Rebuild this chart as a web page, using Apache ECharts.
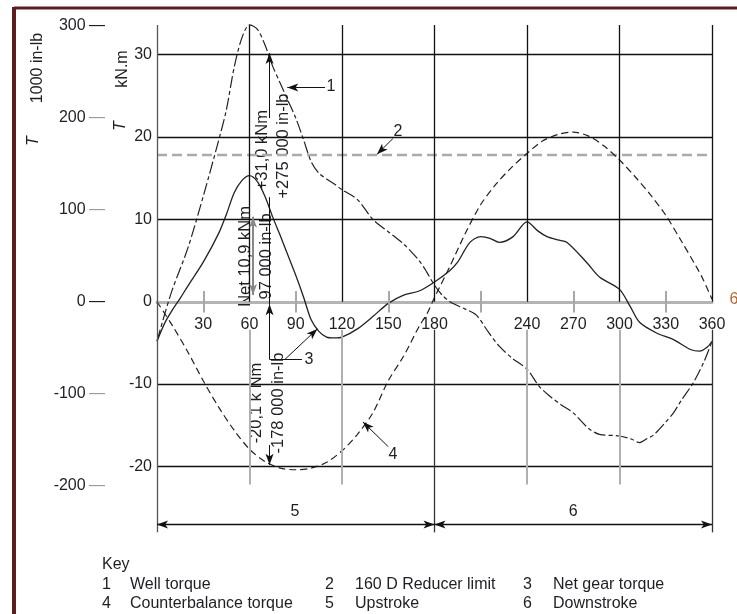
<!DOCTYPE html>
<html><head><meta charset="utf-8">
<script src="https://cdn.jsdelivr.net/npm/echarts@6/dist/echarts.min.js"></script>
<style>html,body{margin:0;padding:0;background:#fff}#c{width:737px;height:614px}</style>
</head><body><div id="c"></div>
<script>
// ---------- data ----------
const wellAngle = [0,5,10,20,30,40,45,50,55,60,65,70,75,80,85,90,95,100,105,110,115,120,130,140,150,160,170,175,180,185,190,200,207,215,222,230,240,248,255,262,270,280,287,300,308,313,318,322,330,335,340,348,355,360];
const wellTorque = [-4.8,-1.5,1.5,6.5,12.8,19.6,23.3,28.4,32,33.6,33.1,31.2,28.6,26.5,24.4,22.3,19.7,17.0,15.6,14.9,14.3,13.6,12.4,10.0,8.5,7.0,5.0,3.6,2.0,0.8,0,-0.9,-1.6,-3.7,-5.4,-6.8,-8.2,-10.3,-11.5,-12.5,-13.5,-15.4,-16.1,-16.3,-16.7,-17.1,-16.6,-16.2,-14.6,-13.5,-12,-9.8,-7.2,-4.8];

const netAngle = [0,5,10,15,20,30,40,45,50,55,60,65,70,75,80,85,90,95,100,105,110,115,120,130,140,150,160,170,180,190,195,203,210,216,222,231,240,247,253,260,266,279,287,300,307,313,324,335,346,352,357,360];
const netTorque = [-4.8,-2.6,-1.0,0.4,1.9,4.8,8.3,10.6,13.2,14.7,15.3,14.6,12.8,10.3,8.0,5.6,3.2,0.6,-2.2,-3.6,-4.3,-4.4,-4.3,-3.3,-1.8,-0.2,0.8,1.3,2.4,3.8,4.8,7.2,7.9,7.7,7.2,7.9,9.7,8.6,7.9,7.5,7.2,4.7,3.0,1.5,-0.6,-2.5,-3.8,-4.6,-5.8,-6.0,-5.5,-4.8];

const cbAngle = [0,10,20,30,40,50,60,70,80,90,100,110,120,130,140,150,160,170,175,180,190,200,210,220,230,240,250,260,270,280,290,300,310,320,330,340,350,354,360];
const cbTorque = [0,-2.9,-6.1,-9.6,-12.8,-15.6,-17.9,-19.4,-20.2,-20.4,-20.2,-19.5,-18.1,-16.1,-13.5,-9.6,-6.6,-3.0,-1.5,0.5,4.3,8.3,11.8,14.3,16.3,18,19.5,20.3,20.6,20.1,18.9,17.2,15.2,13.0,10.5,7.4,4.2,2.8,0.3];

const reducerLimit = 17.8;

const xTickLabels = [30,60,90,120,150,180,240,270,300,330,360];
const minorTicks = [30,90,150,210,270,330];
const kNmTickLabels = [30,20,10,0,-10,-20];
const inlbTickLabels = [300,200,100,0,-100,-200];
const hGridValues = [30,20,10,-10,-20];
const vGridSplit = [60,120,240,300];
const vGridFull = [180,360];
const strokeBounds = [0,180,360];

const keyNumbers = [["1","4"],["2","5"],["3","6"]];
const keyLabels = [["Well torque","Counterbalance torque"],["160 D Reducer limit","Upstroke"],["Net gear torque","Downstroke"]];

// annotation text (rotated) : [text, angle, kNm]
const notes = [
  ["+31,0 kNm", 68.1, 18.4],
  ["+275 000 in-lb", 81.7, 18.9],
  ["Net 10,9 kNm", 57.1, 5.5],
  ["97 000 in-lb", 70.7, 5.5],
  ["-20,1 k Nm", 64.2, -12.3],
  ["-178 000 in-lb", 78.5, -12.3]
];
const callouts = [["1",112.9,26.1],["2",156.3,20.7],["3",98.5,-7.0],["4",153,-18.6],["5",89.5,-25.5],["6",270,-25.5]];

// ---------- layout constants ----------
const Y_MIN = -28.2, Y_MAX = 34.2, F = 0.1119; // kNm per 1000 in-lb
const TOP = 33.6, GBOT = -22.2, DBOT = -28.0, DIM = -27.05, LGAP = -3.4;
const GRID_TOP = 20, GRID_H = 514;
const FONT = "'Liberation Sans', Arial, sans-serif";
const INK = '#1e1e24';
const zeroOffset = -Math.round(GRID_H * (0 - Y_MIN) / (Y_MAX - Y_MIN));

const pairs = (xs, ys) => xs.map((x, i) => [x, ys[i]]);
const solid = (c, w) => ({color: c, width: w, type: 'solid'});
function seg(x1, y1, x2, y2, ls, s1, s2) {
  return [{coord: [x1, y1], symbol: s1 || 'none', lineStyle: ls}, {coord: [x2, y2], symbol: s2 || 'none'}];
}
const ml = [];
const BL = solid('#111', 1.3), GR = solid('#b0b0b0', 2), AR = solid('#111', 1);
hGridValues.forEach(v => ml.push(seg(0, v, 360, v, BL)));
vGridSplit.forEach(v => { ml.push(seg(v, TOP, v, 0, BL)); ml.push(seg(v, LGAP, v, GBOT, GR)); });
ml.push(seg(0, TOP, 0, DBOT, solid('#555', 1.3)));
vGridFull.forEach(v => { ml.push(seg(v, TOP, v, 0, BL)); ml.push(seg(v, LGAP, v, DBOT, solid('#333', 1.3))); });
minorTicks.forEach(v => ml.push(seg(v, 1.3, v, -1.3, solid('#a8a8a8', 2))));
// dimension lines (upstroke / downstroke)
for (let i = 0; i < strokeBounds.length - 1; i++) ml.push(seg(strokeBounds[i], DIM, strokeBounds[i+1], DIM, solid('#111', 1.3), 'arrow', 'arrow'));
// annotation arrows / leaders
ml.push(seg(73, 22.3, 73, 30.2, AR, 'none', 'arrow'));
ml.push(seg(109, 26.0, 84.5, 26.0, AR, 'none', 'arrow'));
ml.push(seg(153, 19.8, 142.7, 17.9, AR, 'none', 'arrow'));
ml.push(seg(62.3, 0.8, 62.3, 10.3, solid('#888', 2), 'arrow', 'arrow'));
ml.push(seg(73, 12.7, 73, -0.3, AR));
ml.push(seg(73, -7.0, 73, -0.3, AR, 'none', 'arrow'));
ml.push(seg(73, -7.0, 94, -7.0, AR));
ml.push(seg(83, -7.0, 104, -3.3, AR, 'none', 'arrow'));
ml.push(seg(73, -17.4, 73, -19.8, AR, 'none', 'arrow'));
ml.push(seg(150, -17.6, 133.6, -14.6, AR, 'none', 'arrow'));

const chart = echarts.init(document.getElementById('c'), null, {renderer: 'canvas'});
chart.setOption({
  animation: false,
  backgroundColor: '#fff',
  textStyle: {fontFamily: FONT},
  grid: {left: 157, right: 25, top: GRID_TOP, height: GRID_H},
  xAxis: {
    type: 'value', min: 0, max: 360, position: 'bottom', offset: zeroOffset,
    axisLine: {show: true, onZero: false, lineStyle: {color: '#b4b4b4', width: 3}},
    axisTick: {show: false}, splitLine: {show: false},
    axisLabel: {customValues: xTickLabels, margin: 15, fontSize: 16, color: INK, fontFamily: FONT}
  },
  yAxis: [{
    type: 'value', min: Y_MIN, max: Y_MAX, position: 'left',
    axisLine: {show: false}, axisTick: {show: false}, splitLine: {show: false},
    axisLabel: {customValues: kNmTickLabels, margin: 5, fontSize: 16, color: INK, fontFamily: FONT}
  }, {
    type: 'value', min: Y_MIN / F, max: Y_MAX / F, position: 'left', offset: 52,
    axisLine: {show: false}, axisTick: {show: false}, splitLine: {show: false},
    axisLabel: {
      customValues: inlbTickLabels, margin: 0, fontFamily: FONT,
      formatter: v => `{n|${v}} {${(v === 300 || v === 0) ? 'k' : 'g'}|—}`,
      rich: {n: {fontSize: 16, color: INK, fontFamily: FONT}, k: {fontSize: 16, color: '#111'}, g: {fontSize: 16, color: '#9a9a9a'}}
    }
  }],
  series: [
    {type: 'line', name: 'helpers', data: [], clip: false, silent: true,
     markLine: {silent: true, animation: false, symbol: ['none', 'none'], symbolSize: [6, 11], label: {show: false}, data: ml}},
    {type: 'line', name: 'Reducer limit', data: [[0, reducerLimit], [360, reducerLimit]], showSymbol: false,
     lineStyle: {color: '#aaaaaa', width: 2.5, type: [10, 5]}, z: 3},
    {type: 'line', name: 'Counterbalance torque', data: pairs(cbAngle, cbTorque), showSymbol: false, smooth: 0.3,
     lineStyle: {color: '#222', width: 1.2, type: [7, 4]}, z: 4},
    {type: 'line', name: 'Well torque', data: pairs(wellAngle, wellTorque), showSymbol: false, smooth: 0.3,
     lineStyle: {color: '#222', width: 1.2, type: [12, 3, 4, 3]}, z: 4},
    {type: 'line', name: 'Net gear torque', data: pairs(netAngle, netTorque), showSymbol: false, smooth: 0.3,
     lineStyle: {color: '#222', width: 1.3}, z: 4}
  ]
});

const px = (x, y) => chart.convertToPixel({xAxisIndex: 0, yAxisIndex: 0}, [x, y]);
const g = [];
// page border
g.push({type: 'line', shape: {x1: 14, y1: 8, x2: 737, y2: 8}, style: {stroke: '#5e1c1c', lineWidth: 3}});
g.push({type: 'line', shape: {x1: 14, y1: 7, x2: 14, y2: 614}, style: {stroke: '#5e1c1c', lineWidth: 4}});
// axis titles
const tt = (t, x, y, rot, extra) => g.push(Object.assign({type: 'text', x: x, y: y, rotation: rot,
  style: Object.assign({text: t, fill: INK, font: '16px ' + FONT, textAlign: 'center', textVerticalAlign: 'middle'}, extra || {})}));
tt('1000 in-lb', 38, 68, Math.PI / 2);
tt('T', 34, 141, Math.PI / 2, {font: 'italic 16px ' + FONT});
tt('kN.m', 123, 69, Math.PI / 2);
tt('T', 121, 126, Math.PI / 2, {font: 'italic 16px ' + FONT});
tt('6', 734, 300, 0, {fill: '#b8692e'});
notes.forEach(n => { const p = px(n[1], n[2]); tt(n[0], p[0], p[1], Math.PI / 2, {font: '16.5px ' + FONT}); });
callouts.forEach(c => { const p = px(c[1], c[2]); tt(c[0], p[0], p[1], 0); });
// key
tt('Key', 102, 565, 0, {textAlign: 'left'});
const colX = [[102, 130], [325, 355], [523, 553]], rowY = [585, 604];
keyNumbers.forEach((col, ci) => col.forEach((num, ri) => {
  tt(num, colX[ci][0], rowY[ri], 0, {textAlign: 'left'});
  tt(keyLabels[ci][ri], colX[ci][1], rowY[ri], 0, {textAlign: 'left'});
}));
chart.setOption({graphic: {elements: g}});
</script></body></html>
